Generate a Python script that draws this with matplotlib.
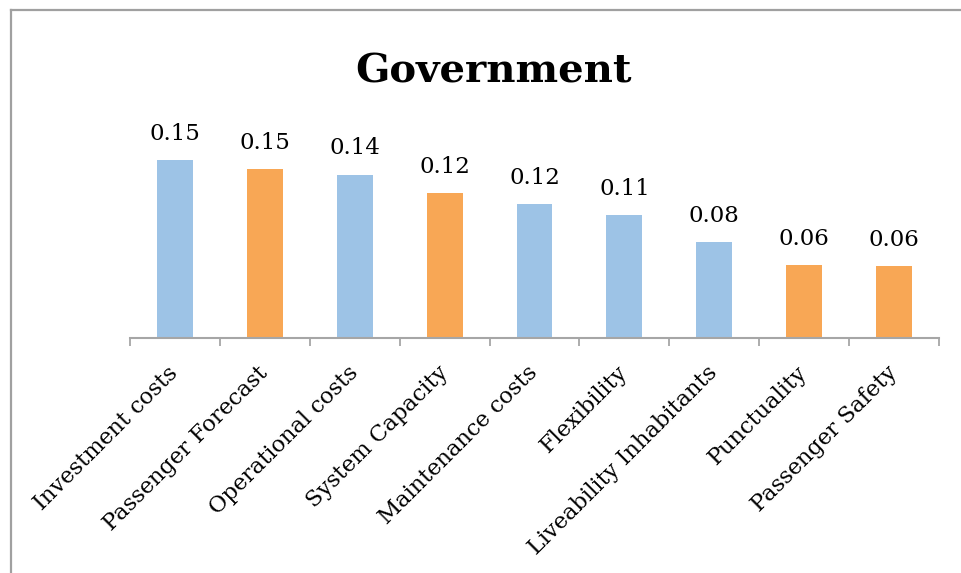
import matplotlib
matplotlib.use("Agg")
import matplotlib.pyplot as plt
from matplotlib.lines import Line2D

categories = ["Investment costs", "Passenger Forecast", "Operational costs",
              "System Capacity", "Maintenance costs", "Flexibility",
              "Liveability Inhabitants", "Punctuality", "Passenger Safety"]
values = [0.153, 0.1452, 0.1405, 0.1245, 0.1151, 0.1056, 0.0823, 0.0625, 0.0616]
labels = ["0.15", "0.15", "0.14", "0.12", "0.12", "0.11", "0.08", "0.06", "0.06"]
groups = ["b", "o", "b", "o", "b", "b", "b", "o", "o"]
title = "Government"

BLUE = "#9DC3E6"
ORANGE = "#F8A755"
GRAY = "#A6A6A6"
FONT = "DejaVu Serif"

W, H = 962, 573
fig = plt.figure(figsize=(W / 100, H / 100), dpi=100)
fig.patch.set_facecolor("white")

# figure frame (left and top only)
fig.add_artist(Line2D([11 / W, 11 / W], [0, 1 - 9.5 / H], color="#A0A0A0", lw=1.6, transform=fig.transFigure))
fig.add_artist(Line2D([11 / W, 1], [1 - 9.5 / H, 1 - 9.5 / H], color="#A0A0A0", lw=1.6, transform=fig.transFigure))

base_y = 337.5
top_y = 100.0
x0, x1 = 130.0, 939.0
ax = fig.add_axes([x0 / W, 1 - base_y / H, (x1 - x0) / W, (base_y - top_y) / H])
scale = 1160.0
ax.set_ylim(0, (base_y - top_y) / scale)
ax.set_xlim(-0.5, len(categories) - 0.5)

xs = list(range(len(categories)))
colors = [BLUE if g == "b" else ORANGE for g in groups]
bars = ax.bar(xs, values, width=0.4, color=colors, zorder=2)

for x, v, lab in zip(xs, values, labels):
    ax.annotate(lab, (x, v), xytext=(0, 11), textcoords="offset points",
                ha="center", va="bottom", fontsize=16.5, family=FONT, color="black")

for s in ["top", "right", "left"]:
    ax.spines[s].set_visible(False)
ax.spines["bottom"].set_color(GRAY)
ax.spines["bottom"].set_linewidth(1.5)
ax.set_yticks([])
ax.set_xticks([i - 0.5 for i in range(len(categories) + 1)])
ax.set_xticklabels([])
ax.tick_params(axis="x", which="major", length=5.5, width=1.3, color=GRAY, direction="out")
ax.set_xticks(xs, minor=True)
ax.set_xticklabels(categories, minor=True, rotation=45, ha="right",
                   rotation_mode="anchor", va="center", fontsize=16.2, family=FONT)
ax.tick_params(axis="x", which="minor", length=0, pad=23)

fig.text(493.5 / W, 1 - 83 / H, title, ha="center", va="baseline",
         fontsize=29, fontweight="bold", family=FONT)

fig.savefig("out.png", dpi=100, facecolor="white")
